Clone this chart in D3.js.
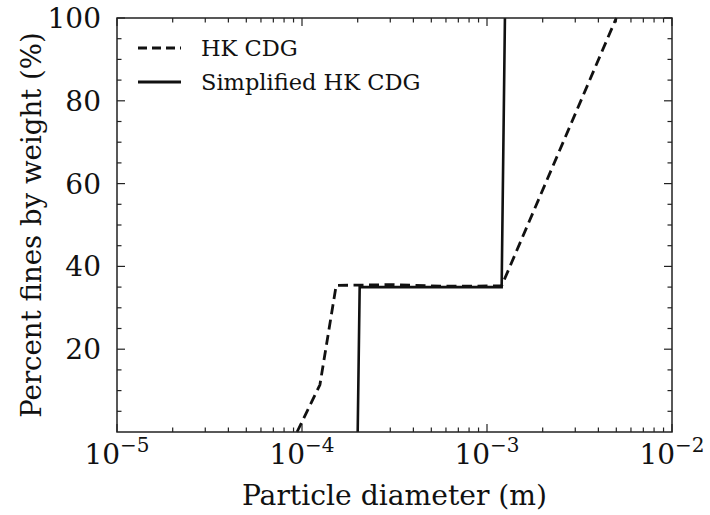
<!DOCTYPE html>
<html><head><meta charset="utf-8">
<script src="https://cdn.jsdelivr.net/npm/d3@7"></script>
<style>body{margin:0;background:#fff}svg{display:block}text{font-family:"DejaVu Serif",serif;fill:#111}</style>
</head><body><svg id="c" width="710" height="515"></svg>
<script>
const hkX = [9.4e-5, 1.25e-4, 1.53e-4, 3.0e-4, 6.0e-4, 1.2e-3, 5.0e-3];
const hkY = [0, 11.4, 35.4, 35.6, 35.2, 35.3, 100];
const simX = [2.0e-4, 2.05e-4, 1.2e-3, 1.25e-3];
const simY = [0, 35, 35, 100];
const xTicks = [1e-5, 1e-4, 1e-3, 1e-2];
const xTickExp = ["\u22125", "\u22124", "\u22123", "\u22122"];
const yTicks = [20, 40, 60, 80, 100];
const seriesNames = ["HK CDG", "Simplified HK CDG"];

const m = {l:117, r:672, t:18, b:432};
const svg = d3.select("#c");
const x = d3.scaleLog().domain([1e-5, 1e-2]).range([m.l, m.r]);
const y = d3.scaleLinear().domain([0, 100]).range([m.b, m.t]);

// minor ticks
const xMinor = [];
for (let e = -5; e < -2; e++) for (let k = 2; k < 10; k++) xMinor.push(k * Math.pow(10, e));
const yMinor = d3.range(5, 100, 5).filter(v => v % 20 !== 0);

const g = svg.append("g");
function tickLines(vals, len, horizontal) {
  vals.forEach(v => {
    if (horizontal) {
      const px = x(v);
      g.append("line").attr("x1",px).attr("x2",px).attr("y1",m.b).attr("y2",m.b-len);
      g.append("line").attr("x1",px).attr("x2",px).attr("y1",m.t).attr("y2",m.t+len);
    } else {
      const py = y(v);
      g.append("line").attr("y1",py).attr("y2",py).attr("x1",m.l).attr("x2",m.l+len);
      g.append("line").attr("y1",py).attr("y2",py).attr("x1",m.r).attr("x2",m.r-len);
    }
  });
}
tickLines(xTicks, 8, true);
tickLines(xMinor, 4.5, true);
tickLines(yTicks, 8, false);
tickLines(yMinor, 4.5, false);
g.selectAll("line").attr("stroke","#222").attr("stroke-width",1.2);

// lines
const line = d3.line().x(d => x(d[0])).y(d => y(d[1]));
svg.append("path").datum(hkX.map((v,i)=>[v,hkY[i]]))
  .attr("d", line).attr("fill","none").attr("stroke","#111")
  .attr("stroke-width",2.8).attr("stroke-dasharray","10,5.5");
svg.append("path").datum(simX.map((v,i)=>[v,simY[i]]))
  .attr("d", line).attr("fill","none").attr("stroke","#111")
  .attr("stroke-width",2.6);

// frame
svg.append("rect").attr("x",m.l).attr("y",m.t).attr("width",m.r-m.l).attr("height",m.b-m.t)
  .attr("fill","none").attr("stroke","#222").attr("stroke-width",1.5);

// y tick labels
svg.selectAll(".yl").data(yTicks).enter().append("text")
  .attr("x", m.l - 16).attr("y", d => y(d)).attr("dy","0.36em")
  .attr("text-anchor","end").attr("font-size",28).text(d => d);

// x tick labels
xTicks.forEach((v,i) => {
  const t = svg.append("text").attr("x", x(v)).attr("y", 464)
    .attr("text-anchor","middle").attr("font-size",28);
  t.append("tspan").text("10");
  t.append("tspan").attr("dy",-12).attr("font-size",20).text(xTickExp[i]);
});

// axis labels
svg.append("text").attr("x",(m.l+m.r)/2).attr("y",505).attr("text-anchor","middle")
  .attr("font-size",28.2).text("Particle diameter (m)");
svg.append("text").attr("transform",`translate(41,${(m.t+m.b)/2}) rotate(-90)`)
  .attr("text-anchor","middle").attr("font-size",27.6).text("Percent fines by weight (%)");

// legend
const lg = svg.append("g");
[[0,"9,5"],[1,null]].forEach(([i,dash]) => {
  const ly = 48 + i*34;
  const l = lg.append("line").attr("x1",138).attr("x2",181).attr("y1",ly).attr("y2",ly)
    .attr("stroke","#111").attr("stroke-width",2.8);
  if (dash) l.attr("stroke-dasharray", dash);
  lg.append("text").attr("x",201).attr("y",ly).attr("dy","0.36em")
    .attr("font-size",22.5).text(seriesNames[i]);
});
</script></body></html>
